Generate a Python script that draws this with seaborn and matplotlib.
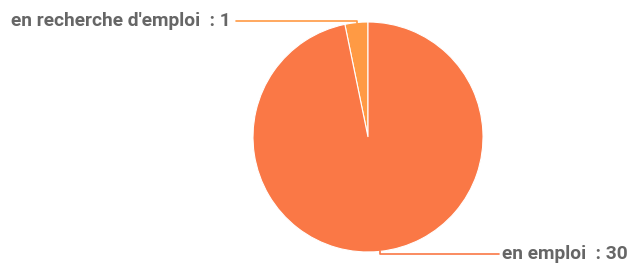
import matplotlib
matplotlib.use("Agg")
import matplotlib.pyplot as plt
import seaborn as sns

# data
labels = ["en recherche d'emploi", "en emploi"]
counts = [1, 30]
colors = ["#FF9A44", "#FA7846"]

sns.set_theme(style="white")
plt.rcParams['font.family'] = ['Roboto', 'DejaVu Sans']

W, H = 629, 264
fig = plt.figure(figsize=(W / 100, H / 100), dpi=100)

# pie centre and radius in pixels
cx, cy, r = 368, 137, 115
ax = fig.add_axes([(cx - r) / W, (H - cy - r) / H, 2 * r / W, 2 * r / H])

wedges, _ = ax.pie(counts, colors=colors, startangle=90, counterclock=True,
                   wedgeprops=dict(edgecolor="white", linewidth=0.8))
ax.set_xlim(-1, 1)
ax.set_ylim(-1, 1)
ax.set_aspect("equal")
ax.axis("off")


def px(x, y):
    # pixel coords (from top-left) -> data coords
    return (x - cx) / r, (cy - y) / r


text_color = "#666666"

# small slice label (left / top)
x0, y0 = px(357, 23)
x1, y1 = px(357, 21)
x2, y2 = px(236, 21)
ax.plot([x0, x1, x2], [y0, y1, y2], color=colors[0], lw=1.2, clip_on=False)
tx, ty = px(231, 21)
ax.text(tx, ty, f"{labels[0]}  : {counts[0]}", ha="right", va="center",
        fontsize=13.8, fontweight="bold", color=text_color, clip_on=False)

# big slice label (bottom / right)
x0, y0 = px(380, 251)
x1, y1 = px(380, 254)
x2, y2 = px(499, 254)
ax.plot([x0, x1, x2], [y0, y1, y2], color=colors[1], lw=1.2, clip_on=False)
tx, ty = px(502, 254)
ax.text(tx, ty, f"{labels[1]}  : {counts[1]}", ha="left", va="center",
        fontsize=13.8, fontweight="bold", color=text_color, clip_on=False)

fig.savefig("out.png", dpi=100)
